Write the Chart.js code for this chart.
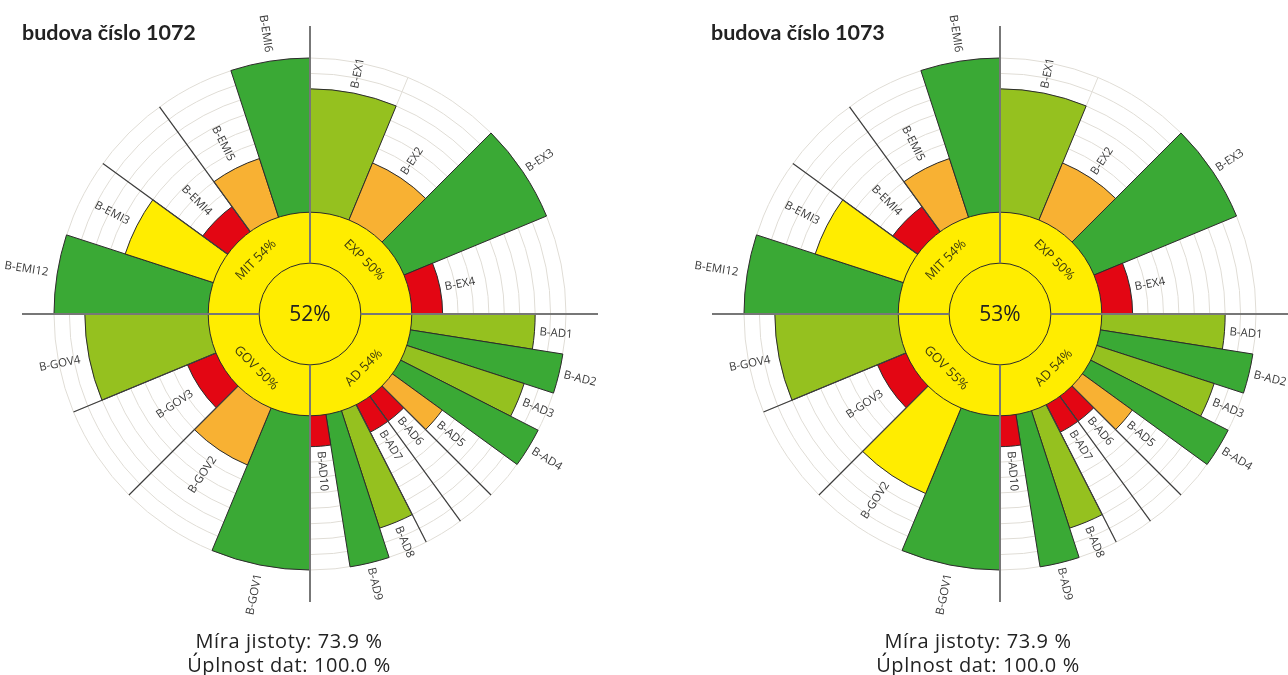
<!DOCTYPE html>
<html>
<head>
<meta charset="utf-8">
<script src="https://cdn.jsdelivr.net/npm/chart.js@4.4.1/dist/chart.umd.min.js"></script>
<style>
  body { margin: 0; width: 1288px; height: 675px; overflow: hidden; background: #fff; position: relative; }
  .panel { position: absolute; top: 0; width: 644px; height: 675px; }
  .title { position: absolute; top: 20px; font: bold 21.5px Lato, sans-serif; color: #222; line-height: 24px; }
  .note { position: absolute; top: 629px; width: 320px; text-align: center; font: 20px "Open Sans", sans-serif; letter-spacing: 0.6px; color: #222; line-height: 24px; }
</style>
</head>
<body>
<div class="panel" style="left:0"><canvas id="c1072"></canvas></div>
<div class="panel" style="left:644px"><canvas id="c1073"></canvas></div>
<div class="title" style="left:22px" id="t1072"></div>
<div class="title" style="left:711px" id="t1073"></div>
<div class="note" style="left:129px" id="n1072"></div>
<div class="note" style="left:818px" id="n1073"></div>
<script>
// categories clockwise from the top
const categories = [
  'B-EX1', 'B-EX2', 'B-EX3', 'B-EX4',
  'B-AD1', 'B-AD2', 'B-AD3', 'B-AD4', 'B-AD5', 'B-AD6', 'B-AD7', 'B-AD8', 'B-AD9', 'B-AD10',
  'B-GOV1', 'B-GOV2', 'B-GOV3', 'B-GOV4',
  'B-EMI12', 'B-EMI3', 'B-EMI4', 'B-EMI5', 'B-EMI6',
];
const domains = ['EXP', 'AD', 'GOV', 'MIT'];
const domainSizes = [4, 10, 4, 5];
const separatorsAfter = ['B-AD5', 'B-AD6', 'B-AD7', 'B-GOV2', 'B-GOV3', 'B-EMI3', 'B-EMI4'];

const buildings = ['1072', '1073'];
const values1072 = [80, 40, 100, 20, 80, 100, 80, 100, 40, 20, 20, 80, 100, 20, 100, 40, 20, 80, 100, 60, 20, 40, 100];
const values1073 = [80, 40, 100, 20, 80, 100, 80, 100, 40, 20, 20, 80, 100, 20, 100, 60, 20, 80, 100, 60, 20, 40, 100];
const domainScores1072 = [50, 54, 50, 54];
const domainScores1073 = [50, 54, 55, 54];
const totals = [52, 53];
const certainty = [73.9, 73.9];
const completeness = [100.0, 100.0];

const COLOR_RED = '#e30613';
const COLOR_ORANGE = '#f8b133';
const COLOR_YELLOW = '#ffed00';
const COLOR_LIGHT_GREEN = '#95c11f';
const COLOR_GREEN = '#3aa935';
const levelColors = { 20: COLOR_RED, 40: COLOR_ORANGE, 60: COLOR_YELLOW, 80: COLOR_LIGHT_GREEN, 100: COLOR_GREEN };
const GRID = '#e0ddd6';

const sliceAngles = domainSizes.flatMap((n) => Array(n).fill(90 / n));

const line = (ctx, cx, cy, a, r1, r2) => {
  ctx.beginPath();
  ctx.moveTo(cx + r1 * Math.cos(a), cy + r1 * Math.sin(a));
  ctx.lineTo(cx + r2 * Math.cos(a), cy + r2 * Math.sin(a));
  ctx.stroke();
};

const rosePlugin = {
  id: 'rose',
  beforeDatasetsDraw(chart) {
    const { ctx } = chart;
    const scale = chart.scales.r;
    const cx = scale.xCenter, cy = scale.yCenter, R = scale.drawingArea;
    const r0 = scale.getDistanceFromCenterForValue(0);
    ctx.save();
    ctx.strokeStyle = GRID;
    ctx.lineWidth = 1;
    chart.getDatasetMeta(0).data.forEach((arc) => line(ctx, cx, cy, arc.startAngle, r0, R));
    ctx.restore();
  },
  afterDatasetsDraw(chart, args, opts) {
    const { ctx } = chart;
    const scale = chart.scales.r;
    const cx = scale.xCenter, cy = scale.yCenter, R = scale.drawingArea;
    const r0 = scale.getDistanceFromCenterForValue(0);
    const rc = r0 / 2;
    const arcs = chart.getDatasetMeta(0).data;
    ctx.save();

    // group separators
    ctx.strokeStyle = '#3d3d3d';
    ctx.lineWidth = 1.2;
    arcs.forEach((arc, i) => {
      if (separatorsAfter.includes(chart.data.labels[i])) line(ctx, cx, cy, arc.endAngle, r0, R);
    });

    // domain ring and centre
    ctx.fillStyle = COLOR_YELLOW;
    ctx.beginPath();
    ctx.arc(cx, cy, r0, 0, Math.PI * 2);
    ctx.fill();
    ctx.strokeStyle = '#2b2b2b';
    ctx.lineWidth = 1;
    [r0, rc].forEach((r) => {
      ctx.beginPath();
      ctx.arc(cx, cy, r, 0, Math.PI * 2);
      ctx.stroke();
    });

    // quadrant axes
    ctx.strokeStyle = '#777';
    ctx.lineWidth = 2;
    for (let q = 0; q < 4; q++) line(ctx, cx, cy, -Math.PI / 2 + q * Math.PI / 2, rc, R * 1.125);

    // bar labels
    ctx.font = '11.5px "Open Sans", sans-serif';
    ctx.fillStyle = '#3a3a3a';
    ctx.textBaseline = 'middle';
    arcs.forEach((arc, i) => {
      const mid = (arc.startAngle + arc.endAngle) / 2;
      const right = Math.cos(mid) > 0;
      const r = arc.outerRadius + (right ? 5 : 9);
      ctx.save();
      ctx.translate(cx + r * Math.cos(mid), cy + r * Math.sin(mid));
      ctx.rotate(right ? mid : mid + Math.PI);
      ctx.textAlign = right ? 'left' : 'right';
      ctx.fillText(chart.data.labels[i], 0, 0);
      ctx.restore();
    });

    // domain labels
    ctx.font = '13px "Open Sans", sans-serif';
    ctx.fillStyle = '#3d3b10';
    ctx.textAlign = 'center';
    const rm = (r0 + rc) / 2;
    domains.forEach((d, q) => {
      const a = -Math.PI / 2 + (q + 0.5) * Math.PI / 2;
      ctx.save();
      ctx.translate(cx + rm * Math.cos(a), cy + rm * Math.sin(a));
      ctx.rotate(Math.sin(a) < 0 ? a + Math.PI / 2 : a - Math.PI / 2);
      ctx.fillText(d + ' ' + opts.scores[q] + '%', 0, 0);
      ctx.restore();
    });

    ctx.font = '21px "Open Sans", sans-serif';
    ctx.fillStyle = '#222';
    ctx.fillText(opts.total + '%', cx, cy + 1);
    ctx.restore();
  },
};

const createRose = (id, values, scores, total, padLeft, padRight) =>
  new Chart(document.getElementById(id), {
    type: 'polarArea',
    data: {
      labels: categories,
      datasets: [
        {
          data: values,
          backgroundColor: values.map((v) => levelColors[v]),
          borderColor: '#2b2b2b',
          borderWidth: 1,
          angle: (c) => sliceAngles[c.dataIndex],
        },
      ],
    },
    options: {
      responsive: false,
      animation: false,
      events: [],
      layout: { padding: { left: padLeft, right: padRight, top: 58, bottom: 105 } },
      scales: {
        r: {
          min: -66,
          max: 100,
          startAngle: 0,
          ticks: { display: false, stepSize: 10, maxTicksLimit: 40 },
          grid: { circular: true, color: (c) => (c.tick && c.tick.value > 0 ? GRID : 'rgba(0,0,0,0)') },
          angleLines: { display: false },
          pointLabels: { display: false },
        },
      },
      plugins: {
        legend: { display: false },
        tooltip: { enabled: false },
        rose: { scores, total },
      },
    },
    plugins: [rosePlugin],
  });

['c1072', 'c1073'].forEach((id) => {
  const c = document.getElementById(id);
  c.width = 644;
  c.height = 675;
});

createRose('c1072', values1072, domainScores1072, totals[0], 54, 78);
createRose('c1073', values1073, domainScores1073, totals[1], 100, 32);

buildings.forEach((b, i) => {
  document.getElementById('t' + b).textContent = 'budova číslo ' + b;
  document.getElementById('n' + b).innerHTML =
    'Míra jistoty: ' + certainty[i].toFixed(1) + ' %<br>Úplnost dat: ' + completeness[i].toFixed(1) + ' %';
});
</script>
</body>
</html>
